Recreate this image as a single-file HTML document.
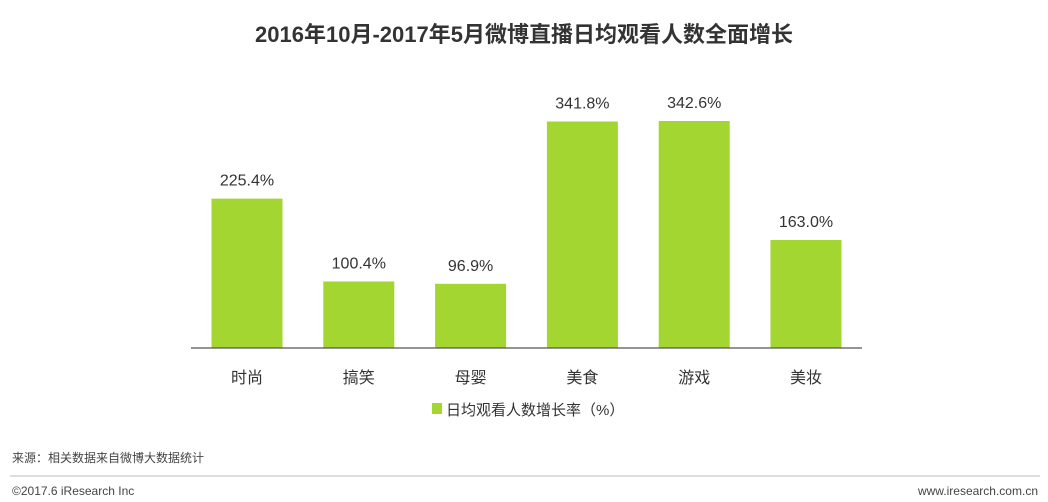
<!DOCTYPE html>
<html><head><meta charset="utf-8">
<style>
body{margin:0;background:#fff;width:1048px;height:502px;overflow:hidden;font-family:"Liberation Sans","Noto Sans CJK SC",sans-serif;}
svg{display:block}
</style></head>
<body>
<svg width="1048" height="502">
<text x="524" y="42" text-anchor="middle" font-size="22" font-weight="bold" fill="#333">2016年10月-2017年5月微博直播日均观看人数全面增长</text>
<g id="bars"></g>
<line x1="191" y1="348" x2="862" y2="348" stroke="#555" stroke-width="1.2"/>
<rect x="432" y="403" width="10" height="11" fill="#a3d631"/>
<text x="446" y="415" font-size="15" fill="#333">日均观看人数增长率（%）</text>
<text x="12" y="462" font-size="12" fill="#444">来源：相关数据来自微博大数据统计</text>
<line x1="10" y1="476" x2="1040" y2="476" stroke="#bbb" stroke-width="1"/>
<text x="12" y="495" font-size="12" fill="#444">©2017.6 iResearch Inc</text>
<text x="1038" y="495" font-size="12" fill="#444" text-anchor="end">www.iresearch.com.cn</text>
</svg>
<script>
const categories=["时尚","搞笑","母婴","美食","游戏","美妆"];
const values=[225.4,100.4,96.9,341.8,342.6,163.0];
const valueLabels=["225.4%","100.4%","96.9%","341.8%","342.6%","163.0%"];
const NS="http://www.w3.org/2000/svg";
const g=document.getElementById('bars');
const baseY=348, scale=0.6626, x0=247, step=111.8, bw=71;
function xPos(i){return x0+i*step;}
function yPos(v){return baseY-v*scale;}
categories.forEach((c,i)=>{
  const r=document.createElementNS(NS,'rect');
  
  
  r.setAttribute('x',xPos(i)-bw/2);r.setAttribute('y',yPos(values[i]));
  r.setAttribute('width',bw);r.setAttribute('height',baseY-yPos(values[i]));
  r.setAttribute('fill','#a3d631');g.appendChild(r);
  const t=document.createElementNS(NS,'text');
  
  
  t.setAttribute('x',xPos(i));t.setAttribute('y',yPos(values[i])-13);
  t.setAttribute('text-anchor','middle');t.setAttribute('font-size','16');t.setAttribute('fill','#333');
  t.textContent=valueLabels[i];g.appendChild(t);
  const l=document.createElementNS(NS,'text');
  
  
  l.setAttribute('x',xPos(i));l.setAttribute('y',383);
  l.setAttribute('text-anchor','middle');l.setAttribute('font-size','16');l.setAttribute('fill','#333');
  l.textContent=c;g.appendChild(l);
});
</script>
</body></html>
